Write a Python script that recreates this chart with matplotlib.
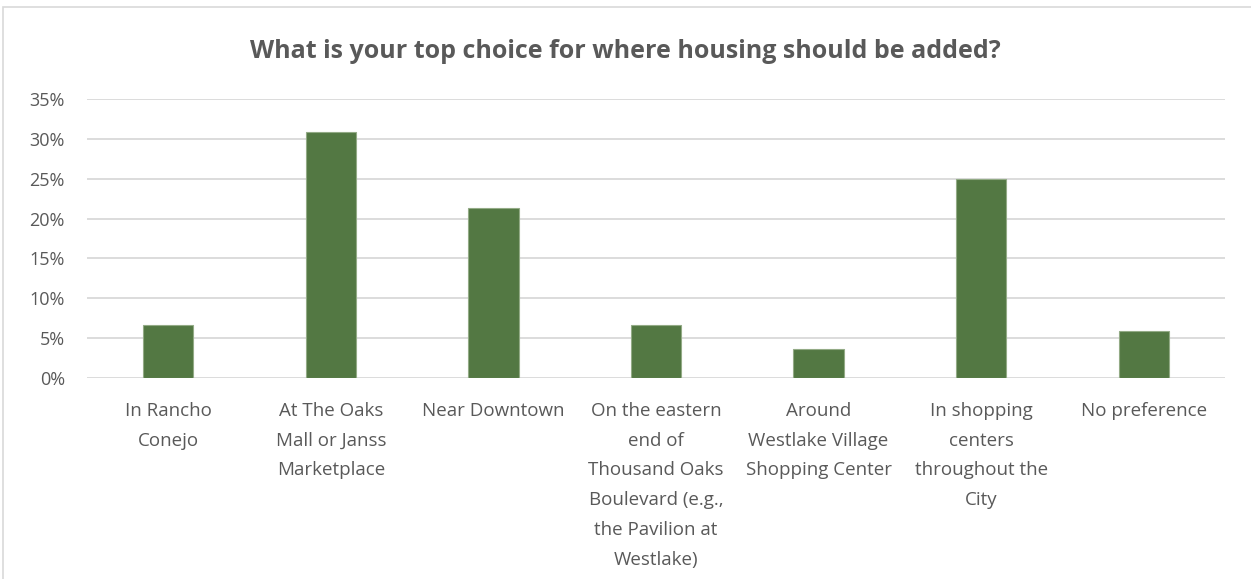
import matplotlib
matplotlib.use("Agg")
import matplotlib.pyplot as plt
from matplotlib.patches import Rectangle
from matplotlib.ticker import PercentFormatter

categories = [
    "In Rancho\nConejo",
    "At The Oaks\nMall or Janss\nMarketplace",
    "Near Downtown",
    "On the eastern\nend of\nThousand Oaks\nBoulevard (e.g.,\nthe Pavilion at\nWestlake)",
    "Around\nWestlake Village\nShopping Center",
    "In shopping\ncenters\nthroughout the\nCity",
    "No preference",
]
shares = [6.6, 30.8, 21.3, 6.6, 3.7, 25.0, 5.9]
y_ticks = [0, 5, 10, 15, 20, 25, 30, 35]

plt.rcParams["font.family"] = ["Open Sans", "DejaVu Sans"]

W, H = 1251, 579
fig = plt.figure(figsize=(W / 100, H / 100), dpi=100)
ax = fig.add_axes([87 / W, 1 - 378 / H, (1225 - 87) / W, (378 - 99) / H])

text_color = "#595959"
x = range(len(categories))
ax.bar(x, shares, width=0.31, color="#537843", edgecolor="#93ab86",
       linewidth=0.8, zorder=3)

ax.set_xlim(-0.5, len(categories) - 0.5)
ax.set_ylim(0, 35)
ax.set_yticks(y_ticks)
ax.yaxis.set_major_formatter(PercentFormatter(decimals=0))
ax.grid(axis="y", color="#d9d9d9", linewidth=1.3, zorder=0)
ax.set_axisbelow(True)
for s in ax.spines.values():
    s.set_visible(False)
ax.tick_params(axis="y", length=0, pad=16, labelsize=13, labelcolor=text_color)
ax.tick_params(axis="x", length=0, pad=17, labelsize=13.5, labelcolor=text_color)
ax.set_xticks(list(x))
ax.set_xticklabels(categories, linespacing=1.85, va="top")

fig.text(0.5, 1 - 51 / H, "What is your top choice for where housing should be added?",
         ha="center", va="center", fontsize=18, fontweight="bold", color=text_color)

fig.patches.append(Rectangle((3 / W, -0.1), 1.2, 1.1 - 7 / H, transform=fig.transFigure,
                             fill=False, edgecolor="#d9d9d9", linewidth=1.2))

fig.savefig("out.png", dpi=100)
